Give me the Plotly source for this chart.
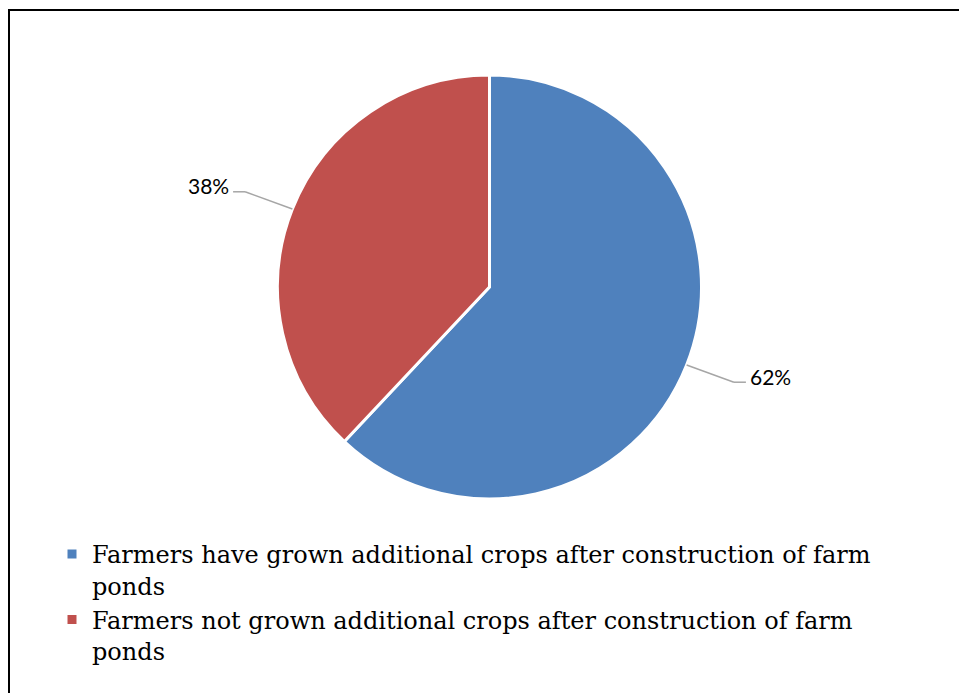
import math
import plotly.graph_objects as go

labels = [
    "Farmers have grown additional crops after construction of farm<br>ponds",
    "Farmers not grown additional crops after construction of farm<br>ponds",
]
values = [62, 38]
pct_text = ["62%", "38%"]
colors = ["#4F81BD", "#C0504D"]

W, H = 959, 693
cx, cy, R = 489.5, 287.0, 212.0  # pixel centre/radius of pie

fig = go.Figure()
fig.add_trace(go.Pie(
    labels=labels,
    values=values,
    marker=dict(colors=colors, line=dict(color="white", width=3)),
    sort=False,
    direction="clockwise",
    rotation=0,
    textinfo="none",
    hoverinfo="label+percent",
    domain=dict(x=[(cx - R) / W, (cx + R) / W],
                y=[(H - cy - R) / H, (H - cy + R) / H]),
))

shapes = []
annotations = []
total = sum(values)
cum = 0.0
for v, t in zip(values, pct_text):
    mid = (cum + v / 2) / total * 2 * math.pi
    cum += v
    sx, sy = math.sin(mid), -math.cos(mid)
    x0, y0 = cx + R * sx, cy + R * sy
    x1, y1 = cx + R * 1.24 * sx, cy + R * 1.22 * sy
    side = 1 if sx >= 0 else -1
    x2 = x1 + side * 12
    for (a, b, c, d) in [(x0, y0, x1, y1), (x1, y1, x2, y1)]:
        shapes.append(dict(type="line", xref="paper", yref="paper",
                           x0=a / W, y0=1 - b / H, x1=c / W, y1=1 - d / H,
                           line=dict(color="#A6A6A6", width=1.5)))
    annotations.append(dict(
        text=t, xref="paper", yref="paper", showarrow=False,
        x=(x2 + side * 2) / W, y=1 - (y1 - 6) / H,
        xanchor="left" if side > 0 else "right", yanchor="middle",
        font=dict(family="Lato, Carlito, sans-serif", size=21, color="#000000"),
    ))

# outer frame
shapes.append(dict(type="line", xref="paper", yref="paper",
                   x0=9 / W, y0=1 - 10 / H, x1=1.01, y1=1 - 10 / H,
                   line=dict(color="#000000", width=2)))
shapes.append(dict(type="line", xref="paper", yref="paper",
                   x0=9 / W, y0=1 - 9 / H, x1=9 / W, y1=-0.01,
                   line=dict(color="#000000", width=2)))

fig.update_layout(
    width=W, height=H,
    margin=dict(l=0, r=0, t=0, b=0, pad=0),
    paper_bgcolor="white", plot_bgcolor="white",
    shapes=shapes, annotations=annotations,
    showlegend=True,
    legend=dict(
        x=52 / W, y=1 - 532 / H, xanchor="left", yanchor="top",
        orientation="v", valign="top",
        font=dict(family="DejaVu Serif, serif", size=24, color="#000000"),
        itemwidth=30, tracegroupgap=0,
        bgcolor="rgba(0,0,0,0)",
    ),
)

fig.write_html("out.html")
